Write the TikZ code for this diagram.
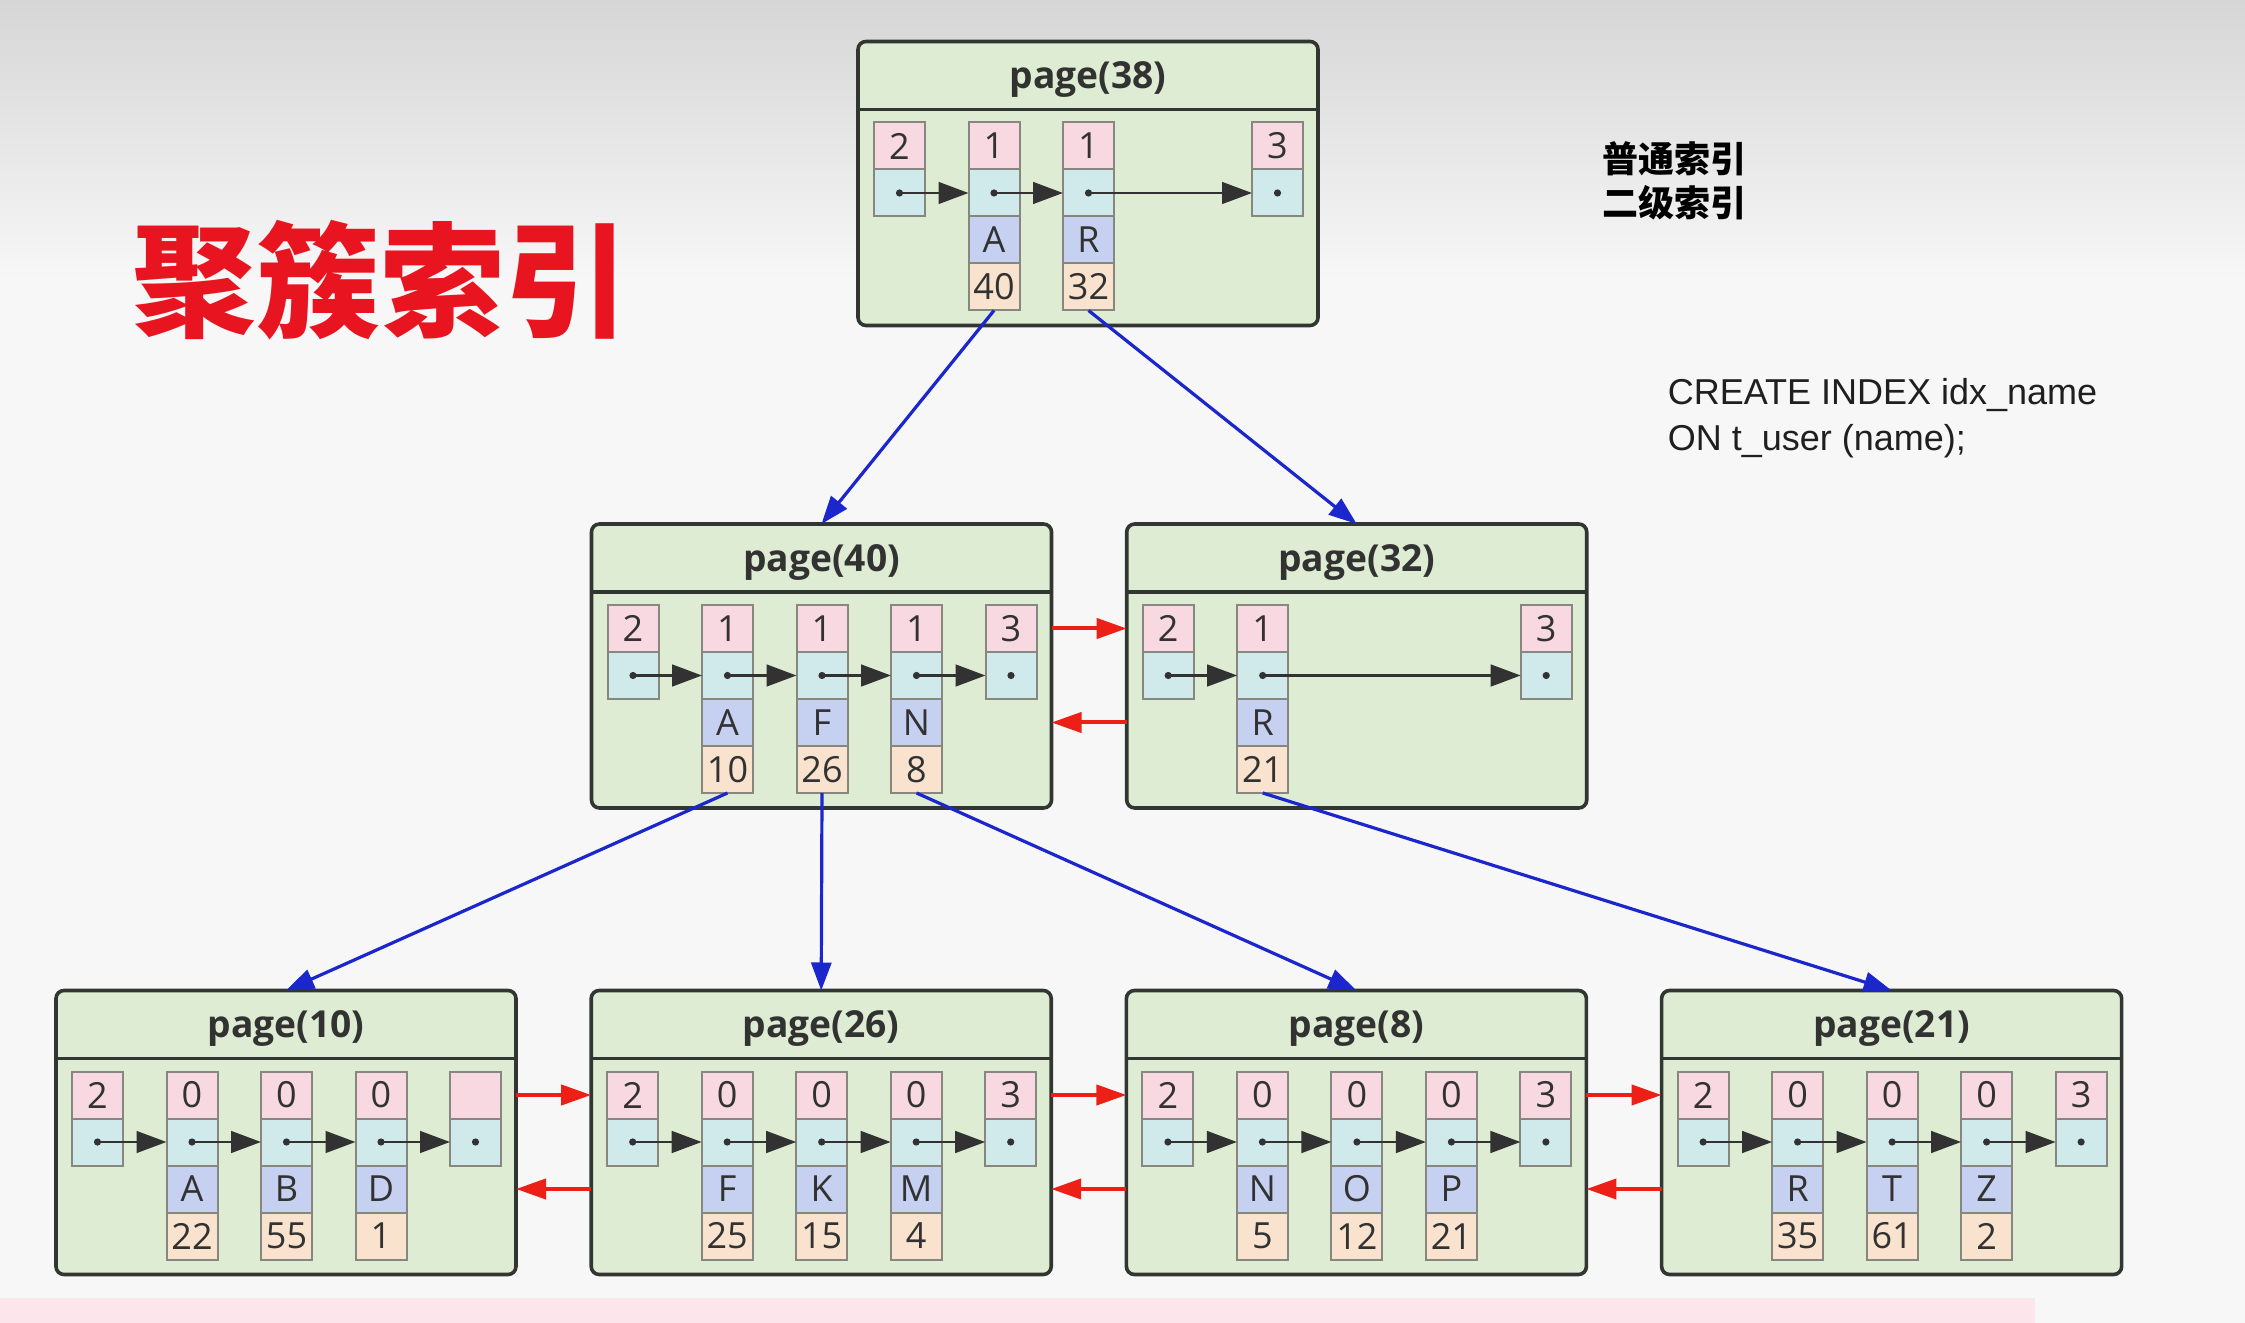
\documentclass[tikz,border=0pt]{standalone}
\usepackage{fontspec}
\setmainfont{Open Sans}
\newfontfamily\cjk{Noto Sans CJK SC}
\newfontfamily\codefont{Liberation Sans}
\usetikzlibrary{arrows.meta, positioning}
\definecolor{bgwhite}{RGB}{247,247,247}
\definecolor{bggray}{RGB}{214,214,214}
\definecolor{stripfill}{RGB}{252,230,236}
\definecolor{pagefill}{RGB}{221,236,210}
\definecolor{pageline}{RGB}{50,54,50}
\definecolor{cntfill}{RGB}{248,217,226}
\definecolor{nxtfill}{RGB}{208,233,235}
\definecolor{keyfill}{RGB}{198,208,240}
\definecolor{valfill}{RGB}{249,226,206}
\definecolor{cellline}{RGB}{135,135,128}
\definecolor{ink}{RGB}{50,50,50}
\definecolor{treeblue}{RGB}{28,38,205}
\definecolor{linkred}{RGB}{236,32,22}
\definecolor{titlered}{RGB}{232,20,32}

\begin{document}
\begin{tikzpicture}[
      x=0.25pt, y=-0.25pt,
      pagebox/.style={rectangle, draw=pageline, line width=0.9pt, fill=pagefill,
                      rounded corners=2pt, minimum width=115pt, minimum height=71pt,
                      inner sep=0pt, outer sep=0pt},
      ptitle/.style={font=\bfseries\fontsize{9.3}{11}\selectfont, text=ink},
      hline/.style={draw=pageline, line width=0.9pt},
      cell/.style={rectangle, draw=cellline, line width=0.5pt, minimum width=12.75pt,
                   minimum height=11.75pt, inner sep=0pt, outer sep=0pt,
                   font=\fontsize{9}{10}\selectfont, text=ink},
      cntbox/.style={cell, fill=cntfill},
      nxtbox/.style={cell, fill=nxtfill},
      keybox/.style={cell, fill=keyfill},
      valbox/.style={cell, fill=valfill},
      ptr/.style={-{Triangle[length=7.5pt,width=5.4pt]}, line width=0.7pt, ink},
      childarr/.style={-{Triangle[length=7pt,width=5pt]}, line width=0.8pt, treeblue},
      siblingarr/.style={-{Triangle[length=7.5pt,width=5pt]}, line width=1pt, linkred},
    ]
    \useasboundingbox (0,0) rectangle (2245,1323);
    \fill[bgwhite] (0,0) rectangle (2245,1323);
    \shade[top color=bggray, bottom color=bgwhite] (0,0) rectangle (2245,280);
    \fill[stripfill] (0,1298) rectangle (2035,1323);

    \node[font=\cjk\bfseries\fontsize{31}{33}\selectfont, text=titlered] (heading) at (380,280) {聚簇索引};
    \node[font=\cjk\bfseries\fontsize{9}{11}\selectfont, align=center] (kind) at (1674,181) {普通索引\\二级索引};
    \node[font=\codefont\fontsize{9}{11.5}\selectfont, align=left, anchor=west, inner sep=0pt,
          text={black!88}] (sql) at (1667,418) {CREATE INDEX idx\_name\\ON t\_user (name);};

    % pages
    \node[pagebox] (p38) at (1088,183.5) {};
    \node[pagebox] (p40) at (821.5,666) {};
    \node[pagebox, right=18.8pt of p40] (p32) {};
    \node[pagebox] (p10) at (286,1132.5) {};
    \node[pagebox, right=18.8pt of p10] (p26) {};
    \node[pagebox, right=18.8pt of p26] (p8) {};
    \node[pagebox, right=18.8pt of p8] (p21) {};
    \foreach \p/\t in {p38/38,p40/40,p32/32,p10/10,p26/26,p8/8,p21/21} {
      \node[ptitle] (\p t) at ([yshift=-9.6pt]\p.north) {page(\t)};
      \draw[hline] ([yshift=-17pt]\p.north west) -- ([yshift=-17pt]\p.north east);
    }

    % page(38)
    \foreach \s/\n in {0/2,1/1,2/1,4/3} {
      \node[cntbox] (p38n\s) at ([shift={(41.5+94.5*\s,104.5)}]p38.north west) {\n};
      \node[nxtbox, below=0pt of p38n\s] (p38c\s) {};
      \fill[ink] (p38c\s) circle (0.9pt);
    }
    \foreach \s/\k/\v in {1/A/40,2/R/32} {
      \node[keybox, below=0pt of p38c\s] (p38k\s) {\k};
      \node[valbox, below=0pt of p38k\s] (p38v\s) {\v};
    }
    \foreach \a/\b in {0/1,1/2,2/4} \draw[ptr] (p38c\a.center) -- (p38c\b.west);

    % page(40)
    \foreach \s/\n in {0/2,1/1,2/1,3/1,4/3} {
      \node[cntbox] (p40n\s) at ([shift={(41.5+94.5*\s,104.5)}]p40.north west) {\n};
      \node[nxtbox, below=0pt of p40n\s] (p40c\s) {};
      \fill[ink] (p40c\s) circle (0.9pt);
    }
    \foreach \s/\k/\v in {1/A/10,2/F/26,3/N/8} {
      \node[keybox, below=0pt of p40c\s] (p40k\s) {\k};
      \node[valbox, below=0pt of p40k\s] (p40v\s) {\v};
    }
    \foreach \a/\b in {0/1,1/2,2/3,3/4} \draw[ptr] (p40c\a.center) -- (p40c\b.west);

    % page(32)
    \foreach \s/\n in {0/2,1/1,4/3} {
      \node[cntbox] (p32n\s) at ([shift={(41.5+94.5*\s,104.5)}]p32.north west) {\n};
      \node[nxtbox, below=0pt of p32n\s] (p32c\s) {};
      \fill[ink] (p32c\s) circle (0.9pt);
    }
    \foreach \s/\k/\v in {1/R/21} {
      \node[keybox, below=0pt of p32c\s] (p32k\s) {\k};
      \node[valbox, below=0pt of p32k\s] (p32v\s) {\v};
    }
    \foreach \a/\b in {0/1,1/4} \draw[ptr] (p32c\a.center) -- (p32c\b.west);

    % page(10)
    \foreach \s/\n in {0/2,1/0,2/0,3/0,4/} {
      \node[cntbox] (p10n\s) at ([shift={(41.5+94.5*\s,104.5)}]p10.north west) {\n};
      \node[nxtbox, below=0pt of p10n\s] (p10c\s) {};
      \fill[ink] (p10c\s) circle (0.9pt);
    }
    \foreach \s/\k/\v in {1/A/22,2/B/55,3/D/1} {
      \node[keybox, below=0pt of p10c\s] (p10k\s) {\k};
      \node[valbox, below=0pt of p10k\s] (p10v\s) {\v};
    }
    \foreach \a/\b in {0/1,1/2,2/3,3/4} \draw[ptr] (p10c\a.center) -- (p10c\b.west);

    % page(26)
    \foreach \s/\n in {0/2,1/0,2/0,3/0,4/3} {
      \node[cntbox] (p26n\s) at ([shift={(41.5+94.5*\s,104.5)}]p26.north west) {\n};
      \node[nxtbox, below=0pt of p26n\s] (p26c\s) {};
      \fill[ink] (p26c\s) circle (0.9pt);
    }
    \foreach \s/\k/\v in {1/F/25,2/K/15,3/M/4} {
      \node[keybox, below=0pt of p26c\s] (p26k\s) {\k};
      \node[valbox, below=0pt of p26k\s] (p26v\s) {\v};
    }
    \foreach \a/\b in {0/1,1/2,2/3,3/4} \draw[ptr] (p26c\a.center) -- (p26c\b.west);

    % page(8)
    \foreach \s/\n in {0/2,1/0,2/0,3/0,4/3} {
      \node[cntbox] (p8n\s) at ([shift={(41.5+94.5*\s,104.5)}]p8.north west) {\n};
      \node[nxtbox, below=0pt of p8n\s] (p8c\s) {};
      \fill[ink] (p8c\s) circle (0.9pt);
    }
    \foreach \s/\k/\v in {1/N/5,2/O/12,3/P/21} {
      \node[keybox, below=0pt of p8c\s] (p8k\s) {\k};
      \node[valbox, below=0pt of p8k\s] (p8v\s) {\v};
    }
    \foreach \a/\b in {0/1,1/2,2/3,3/4} \draw[ptr] (p8c\a.center) -- (p8c\b.west);

    % page(21)
    \foreach \s/\n in {0/2,1/0,2/0,3/0,4/3} {
      \node[cntbox] (p21n\s) at ([shift={(41.5+94.5*\s,104.5)}]p21.north west) {\n};
      \node[nxtbox, below=0pt of p21n\s] (p21c\s) {};
      \fill[ink] (p21c\s) circle (0.9pt);
    }
    \foreach \s/\k/\v in {1/R/35,2/T/61,3/Z/2} {
      \node[keybox, below=0pt of p21c\s] (p21k\s) {\k};
      \node[valbox, below=0pt of p21k\s] (p21v\s) {\v};
    }
    \foreach \a/\b in {0/1,1/2,2/3,3/4} \draw[ptr] (p21c\a.center) -- (p21c\b.west);

    % tree links
    \draw[childarr] (p38v1.south) -- (p40.north);
    \draw[childarr] (p38v2.south) -- (p32.north);
    \draw[childarr] (p40v1.south) -- (p10.north);
    \draw[childarr] (p40v2.south) -- (p26.north);
    \draw[childarr] (p40v3.south) -- (p8.north);
    \draw[childarr] (p32v1.south) -- (p21.north);

    % sibling links
    \draw[siblingarr] (p40.east |- p40n4) -- (p32.west |- p40n4);
    \draw[siblingarr] (p32.west |- p32k1) -- (p40.east |- p32k1);
    \draw[siblingarr] (p10.east |- p10n4) -- (p26.west |- p10n4);
    \draw[siblingarr] (p26.west |- p26k1) -- (p10.east |- p26k1);
    \draw[siblingarr] (p26.east |- p26n4) -- (p8.west |- p26n4);
    \draw[siblingarr] (p8.west |- p8k1) -- (p26.east |- p8k1);
    \draw[siblingarr] (p8.east |- p8n4) -- (p21.west |- p8n4);
    \draw[siblingarr] (p21.west |- p21k1) -- (p8.east |- p21k1);
\end{tikzpicture}
\end{document}
